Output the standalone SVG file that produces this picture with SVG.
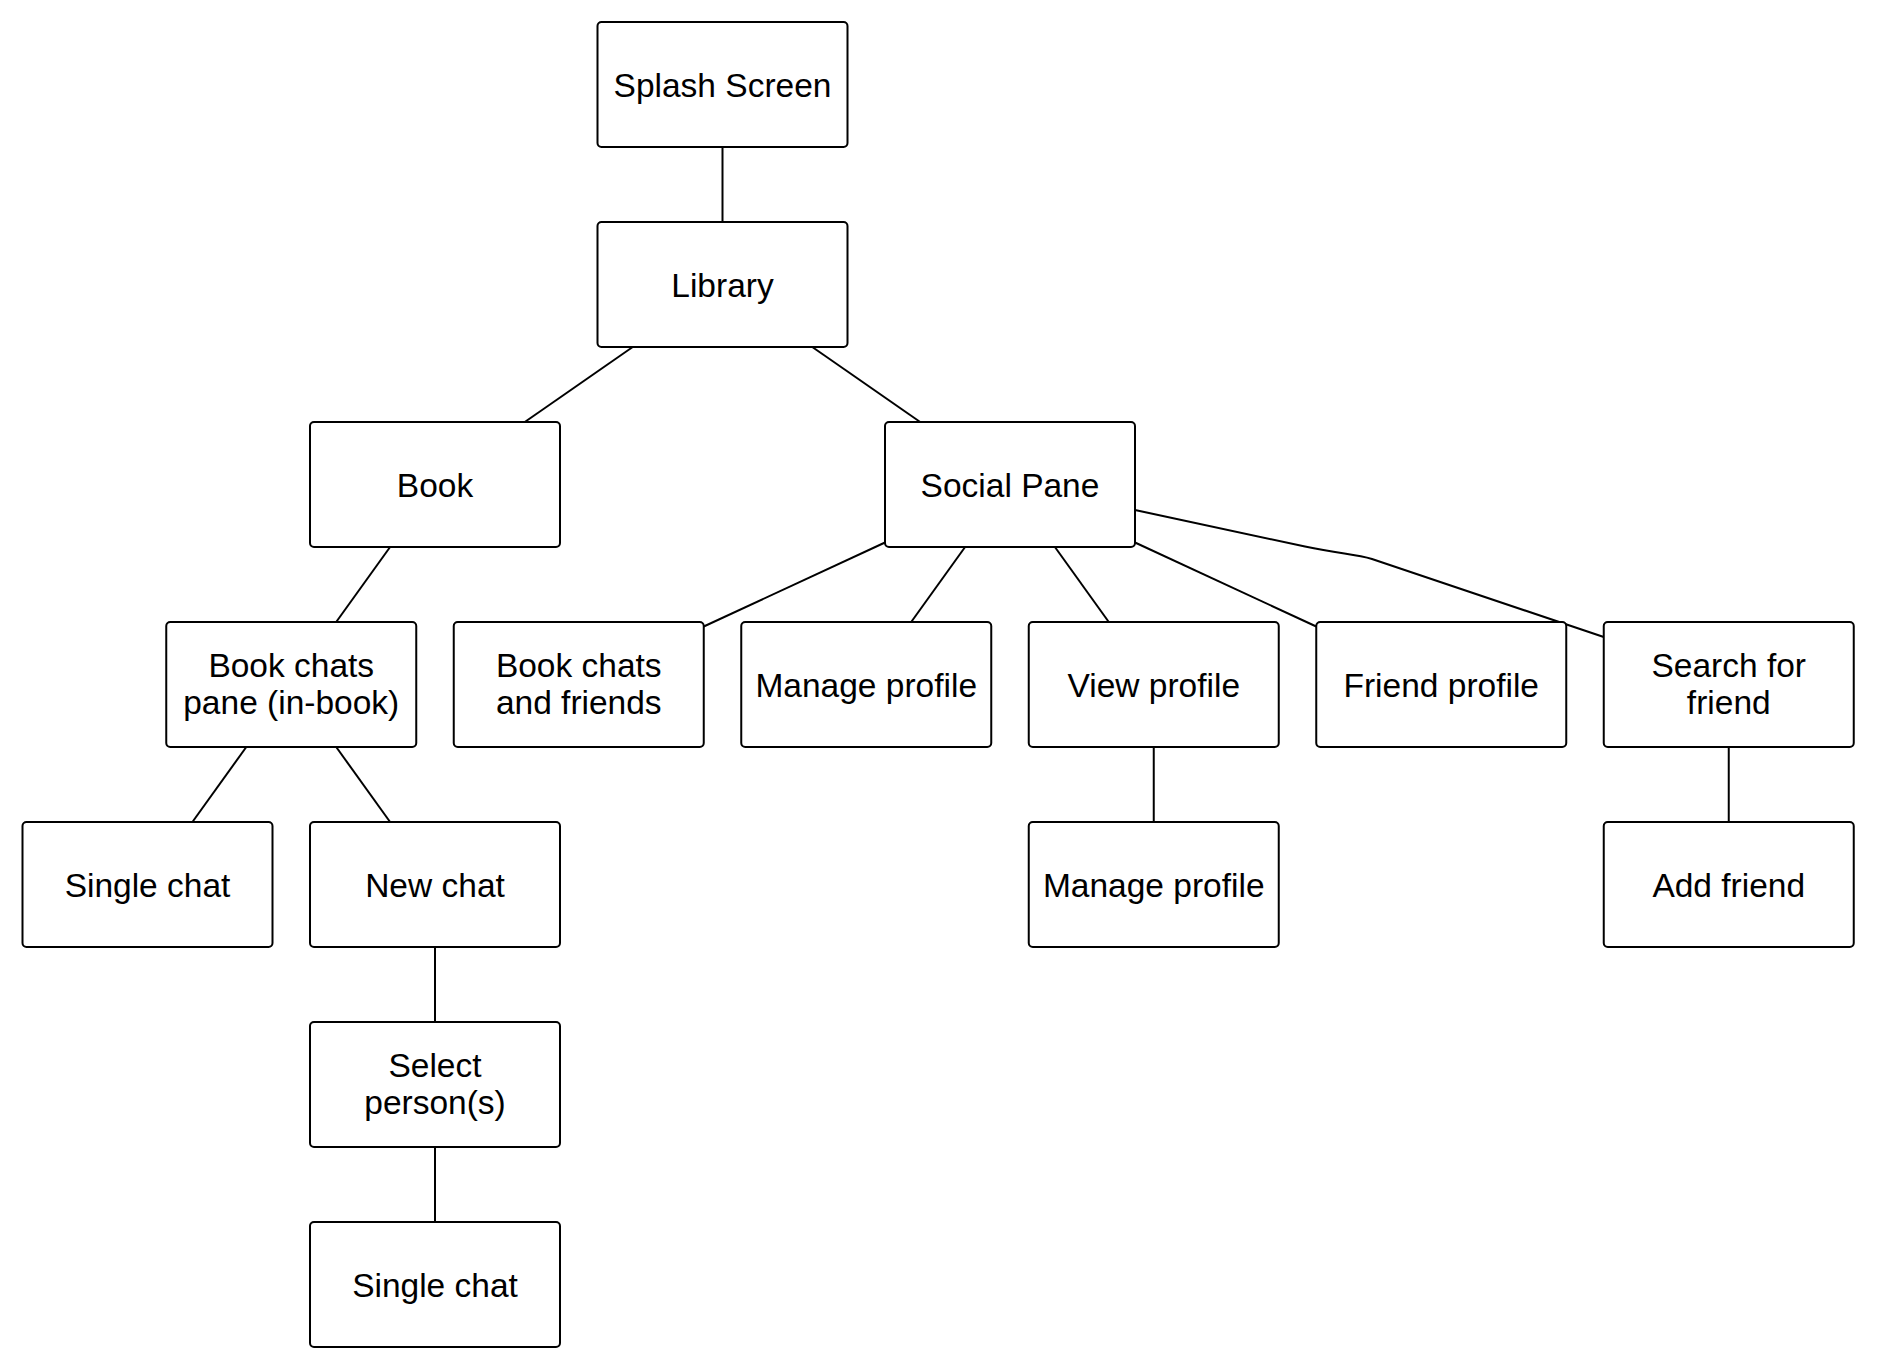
<svg xmlns="http://www.w3.org/2000/svg" width="1877" height="1372" viewBox="0 0 1877 1372">
<style>
.box{fill:#fff;stroke:#000;stroke-width:2}
.lbl{font-family:"Liberation Sans",Arial,Helvetica,sans-serif;font-size:33.5px;fill:#000;text-anchor:middle}
.conn line,.conn path{stroke:#000;stroke-width:2;fill:none}
</style>
<rect width="1877" height="1372" fill="#fff"/>
<g id="connectors" class="conn">
<line x1="722.5" y1="147" x2="722.5" y2="222"/>
<line x1="632.7" y1="347" x2="524.8" y2="422"/>
<line x1="812.3" y1="347" x2="920.2" y2="422"/>
<line x1="390.1" y1="547" x2="336.2" y2="622"/>
<line x1="246.3" y1="747" x2="192.4" y2="822"/>
<line x1="336.2" y1="747" x2="390.1" y2="822"/>
<line x1="435" y1="947" x2="435" y2="1022"/>
<line x1="435" y1="1147" x2="435" y2="1222"/>
<line x1="885" y1="542.5" x2="703.75" y2="626.5"/>
<line x1="965.1" y1="547" x2="911.2" y2="622"/>
<line x1="1054.9" y1="547" x2="1108.8" y2="622"/>
<line x1="1135" y1="542.5" x2="1316.25" y2="626.5"/>
<path d="M1135,510 L1305,546.5 C1340,554 1355,554 1372,559 L1603.75,637"/>
<line x1="1153.75" y1="747" x2="1153.75" y2="822"/>
<line x1="1728.75" y1="747" x2="1728.75" y2="822"/>
</g>
<g id="splash"><rect class="box" x="597.5" y="22" width="250" height="125" rx="4"/><text class="lbl" x="722.5" y="96.5">Splash Screen</text></g>
<g id="library"><rect class="box" x="597.5" y="222" width="250" height="125" rx="4"/><text class="lbl" x="722.5" y="296.5">Library</text></g>
<g id="book"><rect class="box" x="310" y="422" width="250" height="125" rx="4"/><text class="lbl" x="435" y="496.5">Book</text></g>
<g id="social-pane"><rect class="box" x="885" y="422" width="250" height="125" rx="4"/><text class="lbl" x="1010" y="496.5">Social Pane</text></g>
<g id="book-chats-pane"><rect class="box" x="166.25" y="622" width="250" height="125" rx="4"/><text class="lbl" x="291.25" y="677">Book chats</text><text class="lbl" x="291.25" y="714">pane (in-book)</text></g>
<g id="book-chats-friends"><rect class="box" x="453.75" y="622" width="250" height="125" rx="4"/><text class="lbl" x="578.75" y="677">Book chats</text><text class="lbl" x="578.75" y="714">and friends</text></g>
<g id="manage-profile"><rect class="box" x="741.25" y="622" width="250" height="125" rx="4"/><text class="lbl" x="866.25" y="696.5">Manage profile</text></g>
<g id="view-profile"><rect class="box" x="1028.75" y="622" width="250" height="125" rx="4"/><text class="lbl" x="1153.75" y="696.5">View profile</text></g>
<g id="friend-profile"><rect class="box" x="1316.25" y="622" width="250" height="125" rx="4"/><text class="lbl" x="1441.25" y="696.5">Friend profile</text></g>
<g id="search-friend"><rect class="box" x="1603.75" y="622" width="250" height="125" rx="4"/><text class="lbl" x="1728.75" y="677">Search for</text><text class="lbl" x="1728.75" y="714">friend</text></g>
<g id="single-chat-1"><rect class="box" x="22.5" y="822" width="250" height="125" rx="4"/><text class="lbl" x="147.5" y="896.5">Single chat</text></g>
<g id="new-chat"><rect class="box" x="310" y="822" width="250" height="125" rx="4"/><text class="lbl" x="435" y="896.5">New chat</text></g>
<g id="manage-profile-2"><rect class="box" x="1028.75" y="822" width="250" height="125" rx="4"/><text class="lbl" x="1153.75" y="896.5">Manage profile</text></g>
<g id="add-friend"><rect class="box" x="1603.75" y="822" width="250" height="125" rx="4"/><text class="lbl" x="1728.75" y="896.5">Add friend</text></g>
<g id="select-persons"><rect class="box" x="310" y="1022" width="250" height="125" rx="4"/><text class="lbl" x="435" y="1077">Select</text><text class="lbl" x="435" y="1114">person(s)</text></g>
<g id="single-chat-2"><rect class="box" x="310" y="1222" width="250" height="125" rx="4"/><text class="lbl" x="435" y="1296.5">Single chat</text></g>
</svg>
